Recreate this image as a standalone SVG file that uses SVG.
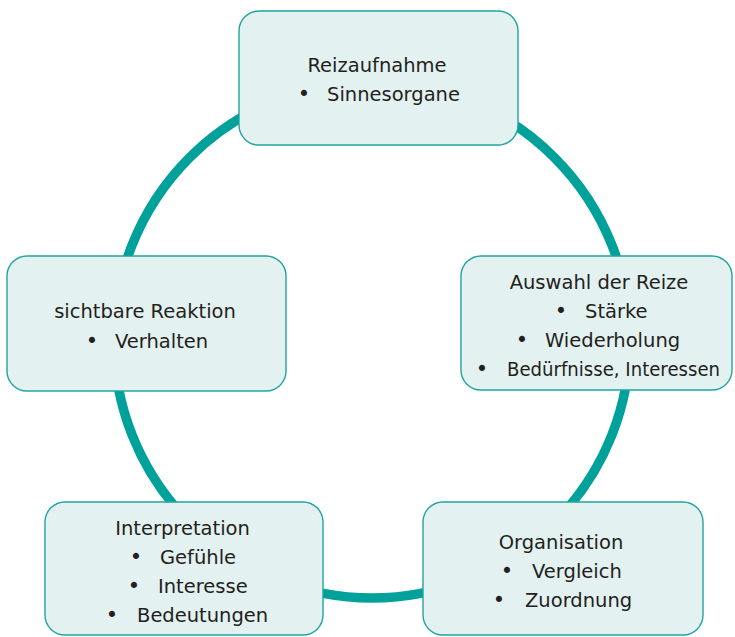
<svg xmlns="http://www.w3.org/2000/svg" width="735" height="637" viewBox="0 0 735 637">
  <style>
    .ring { fill: none; stroke: #00a19a; stroke-width: 9.5; }
    .box { fill: #e3f1f0; stroke: #1fa59e; stroke-width: 1.4; }
    .t { font-family: "DejaVu Sans", "Liberation Sans", sans-serif; font-size: 19.5px; fill: #231f20; }
    .c { text-anchor: middle; }
    .b { text-anchor: middle; font-size: 21px; }
  </style>
  <rect width="735" height="637" fill="#ffffff"/>
  <g id="connectors">
    <circle class="ring" cx="372" cy="340" r="258"/>
  </g>
  <g id="reizaufnahme">
    <rect class="box" x="239" y="11" width="279" height="134" rx="20"/>
    <text class="t c" x="377" y="72">Reizaufnahme</text>
    <text class="t b" x="304" y="101">•</text>
    <text class="t" x="327" y="101">Sinnesorgane</text>
  </g>
  <g id="auswahl">
    <rect class="box" x="461" y="256" width="271" height="134" rx="20"/>
    <text class="t c" x="599" y="289">Auswahl der Reize</text>
    <text class="t b" x="561" y="318">•</text>
    <text class="t" x="585" y="318">Stärke</text>
    <text class="t b" x="522" y="347">•</text>
    <text class="t" x="545" y="347">Wiederholung</text>
    <text class="t b" x="482" y="376">•</text>
    <text class="t" x="507" y="376" textLength="213" lengthAdjust="spacingAndGlyphs">Bedürfnisse, Interessen</text>
  </g>
  <g id="reaktion">
    <rect class="box" x="7" y="256" width="279" height="135" rx="20"/>
    <text class="t c" x="145" y="318">sichtbare Reaktion</text>
    <text class="t b" x="92" y="348">•</text>
    <text class="t" x="115" y="348">Verhalten</text>
  </g>
  <g id="interpretation">
    <rect class="box" x="45" y="502" width="278" height="133" rx="20"/>
    <text class="t c" x="182.5" y="535">Interpretation</text>
    <text class="t b" x="136" y="564">•</text>
    <text class="t" x="160" y="564">Gefühle</text>
    <text class="t b" x="134" y="593">•</text>
    <text class="t" x="158" y="593">Interesse</text>
    <text class="t b" x="112" y="622">•</text>
    <text class="t" x="137" y="622">Bedeutungen</text>
  </g>
  <g id="organisation">
    <rect class="box" x="423" y="502" width="280" height="133" rx="20"/>
    <text class="t c" x="561" y="549">Organisation</text>
    <text class="t b" x="507" y="578">•</text>
    <text class="t" x="532" y="578">Vergleich</text>
    <text class="t b" x="499" y="607">•</text>
    <text class="t" x="525" y="607">Zuordnung</text>
  </g>
</svg>
